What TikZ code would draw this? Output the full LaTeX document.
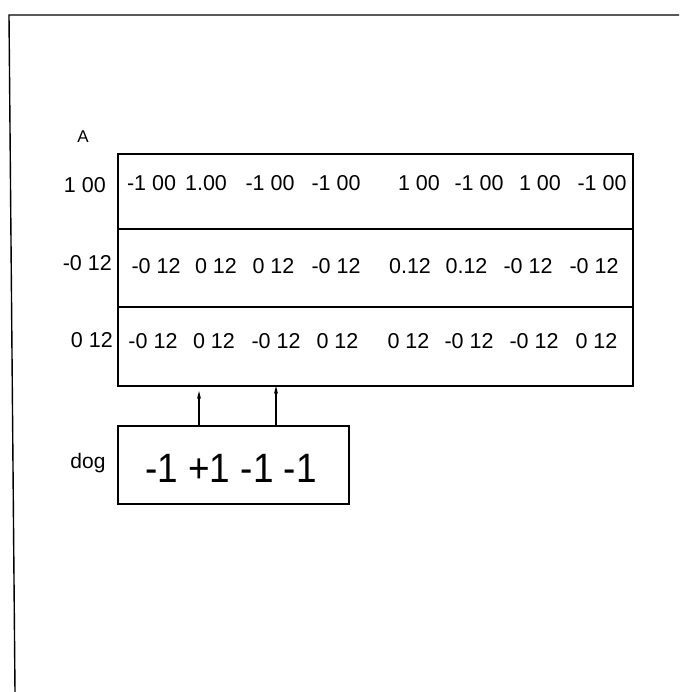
\documentclass[tikz,border=0pt]{standalone}
\usepackage{fontspec}
\setmainfont{Liberation Sans}
\usetikzlibrary{arrows.meta}
\begin{document}
\begin{tikzpicture}[x=1pt,y=-1pt,
  cell/.style={draw,line width=1.6pt,rectangle,anchor=north west,inner sep=0pt,minimum width=515pt},
  val/.style={anchor=base,inner sep=0pt,font=\fontsize{21.5}{24}\selectfont},
  lab/.style={anchor=base east,inner sep=0pt,font=\fontsize{21.5}{24}\selectfont},
  arr/.style={line width=1.2pt,-{Stealth[length=8pt,width=4pt]}}]
\useasboundingbox (0,0) rectangle (679,692);
% frame
\draw[line width=1.4pt] (679,15) -- (9,15) -- (15,692);
% matrix rows
\node[cell,minimum height=75pt] (r1) at (117,153) {};
\node[cell,minimum height=78pt] (r2) at (117,228) {};
\node[cell,minimum height=79pt] (r3) at (117,306) {};
% row 1
\node[val] (a11) at (151.5,191) {-1 00};
\node[val] (a12) at (206,191) {1.00};
\node[val] (a13) at (270,191) {-1 00};
\node[val] (a14) at (336,191) {-1 00};
\node[val] (a15) at (419,191) {1 00};
\node[val] (a16) at (479,191) {-1 00};
\node[val] (a17) at (540,191) {1 00};
\node[val] (a18) at (602,191) {-1 00};
% row 2
\node[val] (a21) at (156,273) {-0 12};
\node[val] (a22) at (216,273) {0 12};
\node[val] (a23) at (273.5,273) {0 12};
\node[val] (a24) at (336,273) {-0 12};
\node[val] (a25) at (410,273) {0.12};
\node[val] (a26) at (466.5,273) {0.12};
\node[val] (a27) at (528,273) {-0 12};
\node[val] (a28) at (594,273) {-0 12};
% row 3
\node[val] (a31) at (153,348) {-0 12};
\node[val] (a32) at (214,348) {0 12};
\node[val] (a33) at (276,348) {-0 12};
\node[val] (a34) at (337.5,348) {0 12};
\node[val] (a35) at (408.5,348) {0 12};
\node[val] (a36) at (469,348) {-0 12};
\node[val] (a37) at (534,348) {-0 12};
\node[val] (a38) at (596.5,348) {0 12};
% left labels
\node[anchor=base,inner sep=0pt,font=\fontsize{17}{20}\selectfont] (lA) at (83,143) {A};
\node[lab] (l1) at (106,193) {1 00};
\node[lab] (l2) at (112,270) {-0 12};
\node[lab] (l3) at (113,347) {0 12};
% dog box
\node[draw,line width=1.6pt,rectangle,anchor=north west,inner sep=0pt,minimum width=231pt,minimum height=78pt] (dog) at (117,425) {};
\node[anchor=base,inner sep=0pt,font=\fontsize{41}{44}\selectfont] (dogv) at (231,482) {\scalebox{0.9}[1]{-1 +1 -1 -1}};
\node[anchor=base,inner sep=0pt,font=\fontsize{21}{24}\selectfont] (ldog) at (88,468) {dog};
% arrows
\coordinate (t1) at (199,391);
\coordinate (t2) at (276,386);
\draw[arr] (dog.north west -| t1) -- (t1);
\draw[arr] (dog.north west -| t2) -- (t2);
\end{tikzpicture}
\end{document}
